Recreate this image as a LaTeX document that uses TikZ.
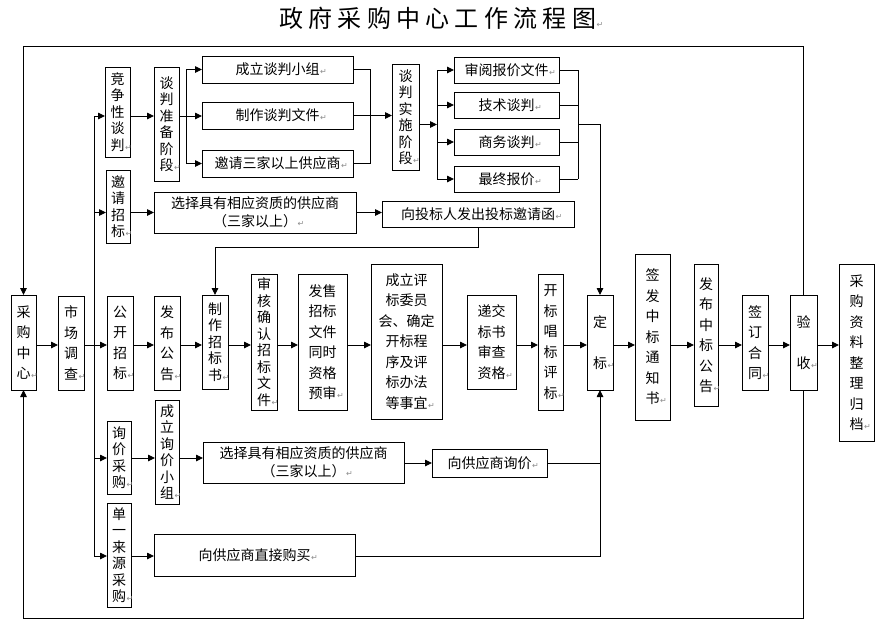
\documentclass[tikz,border=0pt]{standalone}
\usepackage{fontspec}
\setmainfont{Noto Sans CJK SC}
\newfontfamily\dvfont{DejaVu Sans}
\usetikzlibrary{arrows.meta}
\newcommand\pmk{\rlap{\hspace{0.5pt}{\dvfont\fontsize{8}{8}\selectfont\color{black!45}↵}}}
\newcommand\bx[7]{\node[box,#2,minimum width={#5-#3},minimum height={#6-#4}] (#1) at ({(#3+#5)/2},{(#4+#6)/2}) {#7};}
\tikzset{
  box/.style={draw,line width=0.9pt,inner sep=0pt,outer sep=0pt,align=center,fill=white},
  vl/.style={font=\fontsize{14}{20.5}\selectfont},
  vt/.style={font=\fontsize{14}{16.5}\selectfont},
  hz/.style={font=\fontsize{14}{18}\selectfont},
  ln/.style={line width=0.9pt},
  arr/.style={line width=0.9pt,-{Triangle[length=7pt,width=6.5pt]}}
}
\begin{document}
\begin{tikzpicture}[x=1pt,y=-1pt]
\useasboundingbox (0,0) rectangle (888,630);
% title
\node[anchor=west,inner sep=0pt,font=\fontsize{24}{24}\selectfont\addfontfeatures{LetterSpace=22}] (title) at (279,18) {政府采购中心工作流程图\pmk};
% main row
\bx{cg}{vl}{11}{295}{36}{390}{采\\购\\中\\心\pmk}
\bx{sc}{vl}{58}{296}{84}{390}{市\\场\\调\\查\pmk}
\bx{gk}{vl}{107}{296}{133}{390}{公\\开\\招\\标\pmk}
\bx{fb}{vl}{154}{296}{180}{390}{发\\布\\公\\告\pmk}
\bx{zz}{vt}{202}{295}{228}{389}{制\\作\\招\\标\\书\pmk}
\bx{sh}{vt}{251}{274}{277}{410}{审\\核\\确\\认\\招\\标\\文\\件\pmk}
\bx{fs}{vl}{298}{274}{347}{410}{发售\\招标\\文件\\同时\\资格\\预审\pmk}
\bx{cl}{vl}{371}{264}{442}{419}{成立评\\标委员\\会、确定\\开标程\\序及评\\标办法\\等事宜\pmk}
\bx{dj}{vl}{467}{295}{516}{389}{递交\\标书\\审查\\资格\pmk}
\bx{kb}{vl}{538}{274}{563}{410}{开\\标\\唱\\标\\评\\标\pmk}
\bx{db}{vl}{587}{295}{613}{390}{定\\\mbox{}\\标\pmk}
\bx{qf}{vl}{635}{254}{670}{420}{签\\发\\中\\标\\通\\知\\书\pmk}
\bx{fz}{vl}{694}{264}{718}{406}{发\\布\\中\\标\\公\\告\pmk}
\bx{qd}{vl}{742}{295}{768}{390}{签\\订\\合\\同\pmk}
\bx{ys}{vl}{790}{295}{817}{390}{验\\\mbox{}\\收\pmk}
\bx{cz}{vl}{839}{264}{874}{441}{采\\购\\资\\料\\整\\理\\归\\档\pmk}
% top
\bx{jz}{vt}{105}{67}{130}{157}{竞\\争\\性\\谈\\判\pmk}
\bx{tz}{vt}{154}{67}{179}{181}{谈\\判\\准\\备\\阶\\段\pmk}
\bx{t1}{hz}{202}{56}{353}{83}{成立谈判小组\pmk}
\bx{t2}{hz}{202}{102}{353}{129}{制作谈判文件\pmk}
\bx{t3}{hz}{202}{150}{353}{177}{邀请三家以上供应商\pmk}
\bx{ts}{vt}{392}{64}{419}{170}{谈\\判\\实\\施\\阶\\段\pmk}
\bx{s1}{hz}{454}{57}{559}{83}{审阅报价文件\pmk}
\bx{s2}{hz}{454}{92}{559}{118}{技术谈判\pmk}
\bx{s3}{hz}{454}{129}{559}{155}{商务谈判\pmk}
\bx{s4}{hz}{454}{166}{559}{192}{最终报价\pmk}
\bx{yq}{vt}{106}{170}{130}{243}{邀\\请\\招\\标\pmk}
\bx{x1}{hz}{154}{192}{356}{233}{选择具有相应资质的供应商\\（三家以上）\pmk}
\bx{xt}{hz}{382}{201}{574}{227}{向投标人发出投标邀请函\pmk}
% bottom
\bx{xj}{vt}{107}{421}{131}{494}{询\\价\\采\\购\pmk}
\bx{cx}{vt}{155}{400}{179}{504}{成\\立\\询\\价\\小\\组\pmk}
\bx{x2}{hz}{203}{442}{404}{483}{选择具有相应资质的供应商\\（三家以上）\pmk}
\bx{xg}{hz}{432}{449}{547}{477}{向供应商询价\pmk}
\bx{dy}{vt}{107}{503}{131}{607}{单\\一\\来\\源\\采\\购\pmk}
\bx{zj}{hz}{154}{534}{355}{576}{向供应商直接购买\pmk}
% helper coordinates
\coordinate (R) at (0,345);
\coordinate (tk) at (94,0);
\coordinate (Y1) at (0,116);
\coordinate (Y2) at (0,212.5);
\coordinate (Y3) at (0,124.5);
\coordinate (Y4) at (0,458);
\coordinate (Y4b) at (0,463);
\coordinate (Y5) at (0,556);
\coordinate (Y6) at (0,247);
\coordinate (fk) at (186,0);
\coordinate (c370) at (370,0);
\coordinate (f2) at (437,0);
\coordinate (f3) at (578,0);
\coordinate (top) at (0,46);
\coordinate (bot) at (0,618);
% main row arrows
\foreach \a/\b in {cg/sc,sc/gk,gk/fb,fb/zz,zz/sh,sh/fs,fs/cl,cl/dj,dj/kb,kb/db,db/qf,qf/fz,fz/qd,qd/ys,ys/cz}
  \draw[arr] (\a.east |- R) -- (\b.west |- R);
% trunk
\draw[ln] (tk |- Y1) -- (tk |- Y5);
\draw[arr] (tk |- Y1) -- (jz.west |- Y1);
\draw[arr] (tk |- Y2) -- (yq.west |- Y2);
\draw[arr] (tk |- Y4) -- (xj.west |- Y4);
\draw[arr] (tk |- Y5) -- (dy.west |- Y5);
% competitive negotiation
\draw[arr] (jz.east |- Y1) -- (tz.west |- Y1);
\draw[ln] (tz.east |- Y1) -- (fk |- Y1);
\draw[ln] (fk |- t1.west) -- (fk |- t3.west);
\draw[arr] (fk |- t1.west) -- (t1.west);
\draw[arr] (fk |- Y1) -- (t2.west |- Y1);
\draw[arr] (fk |- t3.west) -- (t3.west);
\draw[ln] (t1.east) -- (t1.east -| c370) -- (t3.east -| c370) -- (t3.east);
\draw[arr] (t2.east) -- (ts.west |- t2.east);
\draw[arr] (ts.east |- Y3) -- (f2 |- Y3);
\draw[ln] (f2 |- s1.west) -- (f2 |- s4.west);
\foreach \s in {s1,s2,s3,s4} {
  \draw[arr] (f2 |- \s.west) -- (\s.west);
  \draw[ln] (\s.east) -- (f3 |- \s.east);
}
\draw[ln] (f3 |- s1.east) -- (f3 |- s4.east);
\draw[arr] (f3 |- Y3) -| (db.north);
% invited tender
\draw[arr] (yq.east |- Y2) -- (x1.west |- Y2);
\draw[arr] (x1.east |- Y2) -- (xt.west |- Y2);
\draw[arr] (xt.south) -- (xt.south |- Y6) -| (zz.north);
% inquiry
\draw[arr] (xj.east |- Y4) -- (cx.west |- Y4);
\draw[arr] (cx.east |- Y4) -- (x2.west |- Y4);
\draw[arr] (x2.east |- Y4b) -- (xg.west |- Y4b);
\draw[ln] (xg.east |- Y4b) -- (db.south |- Y4b);
% single source
\draw[arr] (dy.east |- Y5) -- (zj.west |- Y5);
\draw[arr] (zj.east |- Y5) -| (db.south);
% outer loop
\draw[arr] (ys.north) -- (ys.north |- top) -| (cg.north);
\draw[arr] (ys.south) -- (ys.south |- bot) -| (cg.south);
\end{tikzpicture}
\end{document}
